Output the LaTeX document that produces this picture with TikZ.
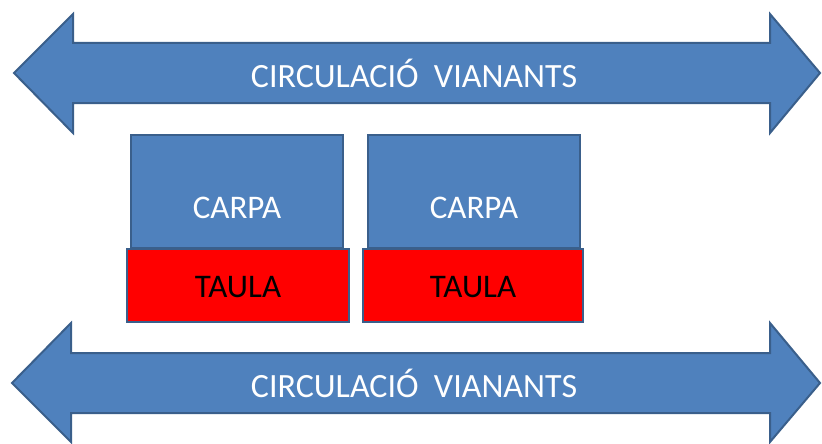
\documentclass[tikz,border=0pt]{standalone}
\usepackage{fontspec}
\setmainfont{Carlito}
\definecolor{pblue}{HTML}{4F81BD}
\definecolor{pborder}{HTML}{3A5F8B}
\definecolor{pred}{HTML}{FF0000}
\begin{document}
\begin{tikzpicture}[x=1pt,y=-1pt,
  arrowshape/.style={fill=pblue,draw=pborder,line width=2pt,line join=miter},
  carpabox/.style={fill=pblue,draw=pborder,line width=2pt},
  taulabox/.style={fill=pred,draw=pborder,line width=2.5pt},
  lbl/.style={font=\fontsize{33}{36}\selectfont,inner sep=0pt},
  biglbl/.style={font=\fontsize{34}{37}\selectfont,inner sep=0pt,text=white},
]
\useasboundingbox (0,0) rectangle (822,444);
% top arrow
\draw[arrowshape] (14,73) -- (73,14) -- (73,43) -- (770,43) -- (770,14) -- (820,73)
  -- (770,133) -- (770,103) -- (73,103) -- (73,133) -- cycle;
\node[biglbl] (toptext) at (414,73) {CIRCULACIÓ\ \ VIANANTS};
% bottom arrow
\draw[arrowshape] (12,383) -- (71,323) -- (71,353) -- (770,353) -- (770,323) -- (820,383)
  -- (770,442) -- (770,413) -- (71,413) -- (71,442) -- cycle;
\node[biglbl] (bottext) at (414,383) {CIRCULACIÓ\ \ VIANANTS};
% carpas
\draw[carpabox] (131,135) rectangle (343,248);
\node[lbl,text=white] (carpa1) at (237,208) {CARPA};
\draw[carpabox] (368,135) rectangle (580,248);
\node[lbl,text=white] (carpa2) at (474,208) {CARPA};
% taules
\draw[taulabox] (127,249) rectangle (349,322);
\node[lbl,text=black] (taula1) at (238,287) {TAULA};
\draw[taulabox] (363,249) rectangle (583,322);
\node[lbl,text=black] (taula2) at (473,287) {TAULA};
\end{tikzpicture}
\end{document}
